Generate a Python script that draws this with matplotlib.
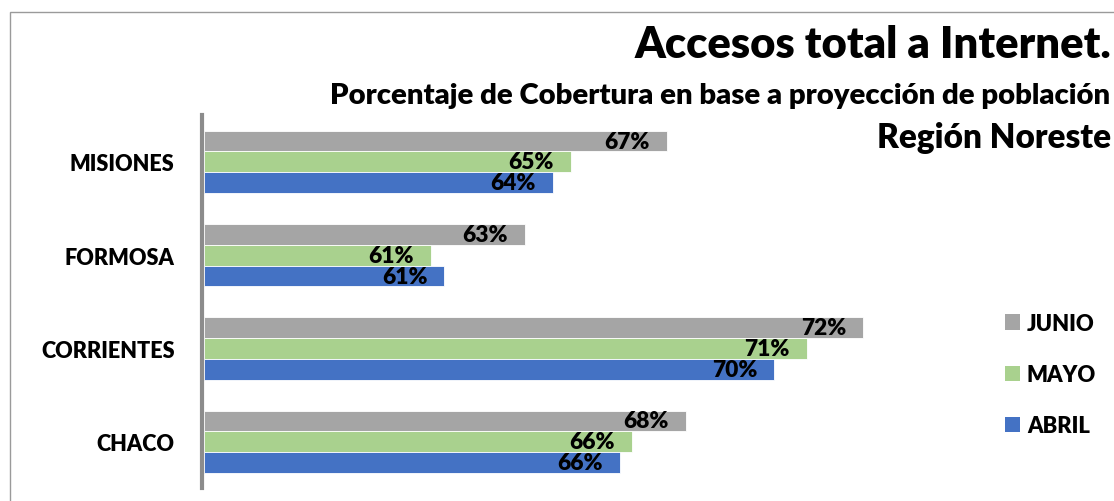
import matplotlib
matplotlib.use("Agg")
import matplotlib.pyplot as plt
from matplotlib.patches import Patch, Rectangle
import numpy as np

# ---------------- data ----------------
categories = ["MISIONES", "FORMOSA", "CORRIENTES", "CHACO"]
series_names = ["JUNIO", "MAYO", "ABRIL"]
junio = [67.15, 63.42, 72.30, 67.64]
mayo = [64.62, 60.95, 70.82, 66.23]
abril = [64.15, 61.31, 69.96, 65.92]

title_text = "Accesos total a Internet."
subtitle_text = "Porcentaje de Cobertura en base a proyección de población"
region_text = "Región Noreste"

# ---------------- style ----------------
W, H, DPI = 1114, 502, 100
FONT = ["Lato", "DejaVu Sans"]
WEIGHT = "heavy"
plt.rcParams["font.family"] = FONT
plt.rcParams["font.weight"] = WEIGHT
colors = {"JUNIO": "#A5A5A5", "MAYO": "#A9D18E", "ABRIL": "#4472C4"}

fig = plt.figure(figsize=(W / DPI, H / DPI), dpi=DPI)
fig.patch.set_facecolor("white")

def fx(px):
    return px / W

def fy(py):
    return 1 - py / H

# outer light frame (chart area border, cropped at right/bottom)
fig.patches.append(Rectangle((fx(9.5), fy(600)), fx(1300), fy(12.5) - fy(600),
                             transform=fig.transFigure, fill=False,
                             edgecolor="#9a9a9a", linewidth=1.0))

ax = fig.add_axes([fx(204), fy(489.45), 762 / W, 373.2 / H])
ax.set_facecolor("none")

y = np.arange(len(categories))
h = 0.223
series = {"JUNIO": junio, "MAYO": mayo, "ABRIL": abril}
offsets = {"JUNIO": -h, "MAYO": 0.0, "ABRIL": h}
XMIN, XMAX = 55, 75

for name in series_names:
    vals = np.array(series[name])
    ax.barh(y + offsets[name], vals - XMIN, left=XMIN, height=h,
            color=colors[name], edgecolor="white", linewidth=0.6, zorder=2)
    for yy, v in zip(y + offsets[name], vals):
        ax.annotate(f"{v:.0f}%", xy=(v, yy), xytext=(-12.2, 0),
                    textcoords="offset points", ha="right", va="center",
                    fontsize=16.4, fontweight=WEIGHT, color="black",
                    zorder=3)

CAT_FS = 15.6
ax.set_xlim(XMIN, XMAX)
ax.set_ylim(len(categories) - 0.5, -0.5)
ax.set_yticks(y)
ax.set_yticklabels(categories)
ax.tick_params(axis="y", length=0, pad=19.6, labelsize=CAT_FS)
for lab in ax.get_yticklabels():
    lab.set_fontweight(WEIGHT)
    lab.set_fontsize(CAT_FS)
ax.set_xticks([])
for s in ["top", "right", "bottom"]:
    ax.spines[s].set_visible(False)
ax.spines["left"].set_color("#8c8c8c")
ax.spines["left"].set_linewidth(3.0)
ax.spines["left"].set_position(("outward", 1.5))

# titles
renderer = fig.canvas.get_renderer()

def fit_width(t, target):
    for _ in range(3):
        bb = t.get_window_extent(renderer)
        t.set_fontsize(t.get_fontsize() * target / bb.width)

t1 = fig.text(fx(1111), fy(58.5), title_text, ha="right", va="baseline",
              fontsize=26, fontweight=WEIGHT)
fit_width(t1, 477)
t2 = fig.text(fx(1110), fy(104), subtitle_text, ha="right", va="baseline",
              fontsize=16, fontweight=WEIGHT)
fit_width(t2, 780)
t3 = fig.text(fx(1111.5), fy(148.3), region_text, ha="right", va="baseline",
              fontsize=18, fontweight=WEIGHT)
fit_width(t3, 234)

# legend
handles = [Patch(facecolor=colors[n], edgecolor="none") for n in series_names]
leg_fs = 15.8
fs_px = leg_fs * DPI / 72
leg = fig.legend(handles, series_names, loc="center left",
                 bbox_to_anchor=(fx(1005), fy(375.3)), frameon=False,
                 prop={"family": FONT, "weight": WEIGHT, "size": leg_fs},
                 handlelength=15 / fs_px, handleheight=15 / fs_px,
                 handletextpad=7 / fs_px, labelspacing=1.37,
                 borderpad=0, borderaxespad=0)

fig.savefig("out.png", dpi=DPI, facecolor="white")
